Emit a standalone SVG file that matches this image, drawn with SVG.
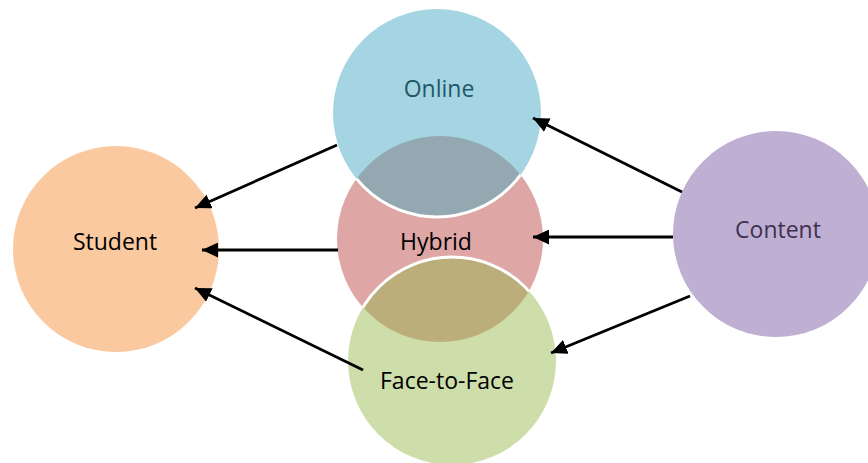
<svg xmlns="http://www.w3.org/2000/svg" width="868" height="463" viewBox="0 0 868 463">
  <style>
    .lbl { font-family: "Open Sans", "Liberation Sans", sans-serif; font-size: 23px; text-anchor: middle; }
    .conn { stroke: #000; stroke-width: 2.8; fill: none; marker-end: url(#ah); }
  </style>
  <defs>
    <marker id="ah" markerUnits="userSpaceOnUse" markerWidth="17" markerHeight="15" refX="16" refY="7.5" orient="auto">
      <path d="M0,0 L16,7.5 L0,15 Z" fill="#000"/>
    </marker>
    <clipPath id="clipHybrid"><circle cx="440" cy="239" r="103"/></clipPath>
  </defs>
  <rect width="868" height="463" fill="#fff"/>

  <g id="student">
    <circle cx="116" cy="249" r="103" fill="#fac9a0"/>
    <text class="lbl" x="115" y="250" fill="#000">Student</text>
  </g>

  <g id="content">
    <circle cx="776" cy="234" r="103" fill="#bfb0d3"/>
    <text class="lbl" x="778" y="238" fill="#3f3151">Content</text>
  </g>

  <g id="hybrid">
    <circle cx="440" cy="239" r="103" fill="#dea6a5"/>
  </g>

  <g id="online">
    <circle cx="437" cy="113" r="104" fill="#a5d5e2"/>
    <g clip-path="url(#clipHybrid)">
      <circle cx="437" cy="113" r="104" fill="#93a8b1" stroke="#fff" stroke-width="3"/>
    </g>
    <text class="lbl" x="439" y="97" fill="#215868">Online</text>
  </g>

  <g id="face-to-face">
    <circle cx="452" cy="361" r="104" fill="#cddeaa"/>
    <g clip-path="url(#clipHybrid)">
      <circle cx="452" cy="361" r="104" fill="#bbae7b" stroke="#fff" stroke-width="3"/>
    </g>
    <text class="lbl" x="447" y="389" fill="#000">Face-to-Face</text>
  </g>

  <g id="hybrid-label">
    <text class="lbl" x="436" y="250" fill="#000">Hybrid</text>
  </g>

  <g id="connectors">
    <line class="conn" x1="337" y1="145" x2="195" y2="208"/>
    <line class="conn" x1="338" y1="250" x2="202" y2="250"/>
    <line class="conn" x1="363" y1="370" x2="195" y2="288"/>
    <line class="conn" x1="682" y1="192" x2="533" y2="118"/>
    <line class="conn" x1="673" y1="237" x2="533" y2="237"/>
    <line class="conn" x1="690" y1="296" x2="551" y2="353"/>
  </g>
</svg>
